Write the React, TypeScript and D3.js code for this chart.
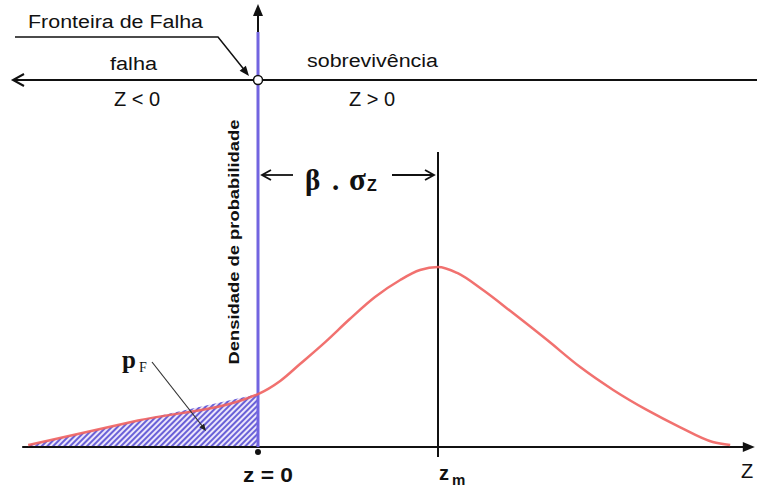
import * as d3 from 'd3';

// curve: z in units where z = 0 is the failure boundary and zm = 3
const zValues = [-3.83, -2, 0, 0.37, 0.7, 1.12, 1.53, 1.95, 2.37, 2.7, 3.0, 3.32, 3.75, 4.25, 4.82, 5.37, 5.92, 6.48, 7.03, 7.58, 7.87];
const density = [0.011, 0.147, 0.294, 0.367, 0.461, 0.583, 0.711, 0.833, 0.928, 0.983, 1.0, 0.967, 0.872, 0.744, 0.594, 0.444, 0.317, 0.206, 0.111, 0.028, 0.011];
const zMean = 3;
const axisExtent = [-3.93, 8.28];

const W = 757;
const H = 488;

const x = d3.scaleLinear().domain([0, zMean]).range([258, 438]);
const y = d3.scaleLinear().domain([0, 1]).range([447, 267]);

const points = zValues.map((z, i) => ({ z, d: density[i] }));
const failPts = points.filter(p => p.z <= 0);

const line = d3.line<{ z: number; d: number }>()
  .curve(d3.curveMonotoneX)
  .x(p => x(p.z))
  .y(p => y(p.d));

const area = d3.area<{ z: number; d: number }>()
  .curve(d3.curveMonotoneX)
  .x(p => x(p.z))
  .y0(y(0))
  .y1(p => y(p.d));

const sans = '"Liberation Sans", Arial, sans-serif';
const serif = '"Liberation Serif", "Times New Roman", serif';

const chevron = (tx: number, ty: number, dx: number, dy: number, len = 10, spread = 6) => {
  // open arrowhead pointing in direction (dx, dy)
  const n = Math.hypot(dx, dy);
  const ux = dx / n, uy = dy / n;
  const bx = tx - ux * len, by = ty - uy * len;
  return `M${bx - uy * spread},${by + ux * spread}L${tx},${ty}L${bx + uy * spread},${by - ux * spread}`;
};

const tri = (tx: number, ty: number, dx: number, dy: number, len = 12, spread = 5) => {
  const n = Math.hypot(dx, dy);
  const ux = dx / n, uy = dy / n;
  const bx = tx - ux * len, by = ty - uy * len;
  return `M${tx},${ty}L${bx - uy * spread},${by + ux * spread}L${bx + uy * spread},${by - ux * spread}Z`;
};

export default function App() {
  const x0 = x(0);
  const xm = x(zMean);
  const base = y(0);

  return (
    <svg width={W} height={H} style={{ position: 'absolute', left: 0, top: 0, background: '#fff' }}>
      <defs>
        <pattern id="hatch" width="4" height="4" patternUnits="userSpaceOnUse" patternTransform="rotate(45)">
          <rect width="4" height="4" fill="#ece6fb" />
          <line x1="1" y1="0" x2="1" y2="4" stroke="#5b52d4" strokeWidth="1.8" />
        </pattern>
      </defs>

      {/* failure region */}
      <path d={area(failPts) ?? ''} fill="url(#hatch)" />

      {/* Z axis */}
      <line x1={x(axisExtent[0])} y1={base} x2={x(axisExtent[1]) - 8} y2={base} stroke="#111" strokeWidth={2} />
      <path d={tri(x(axisExtent[1]), base, 1, 0)} fill="#111" />

      {/* density axis */}
      <line x1={x0} y1={base} x2={x0} y2={14} stroke="#111" strokeWidth={2} />
      <path d={tri(x0, 4, 0, -1)} fill="#111" />
      <line x1={x0} y1={base} x2={x0} y2={32} stroke="#7264e0" strokeWidth={3} />
      <circle cx={x0} cy={base + 5} r={3} fill="#111" />

      {/* mean line */}
      <line x1={xm} y1={152} x2={xm} y2={base + 10} stroke="#111" strokeWidth={2} />

      {/* density curve */}
      <path d={line(points) ?? ''} fill="none" stroke="#f0625f" strokeWidth={2.5} strokeOpacity={0.9} />

      {/* top domain arrow */}
      <line x1={13} y1={80} x2={W} y2={80} stroke="#111" strokeWidth={2} />
      <path d={chevron(13, 80, -1, 0, 11, 6)} fill="none" stroke="#111" strokeWidth={2} />
      <circle cx={x0} cy={80} r={4.5} fill="#fff" stroke="#111" strokeWidth={1.5} />

      {/* Fronteira de Falha leader */}
      <polyline points="15,37 218,37 246,72" fill="none" stroke="#111" strokeWidth={1.5} />
      <path d={tri(249, 76, 28, 35, 10, 4)} fill="#111" />

      <text x={28} y={28} fontFamily={sans} fontSize={18} textLength={175} lengthAdjust="spacingAndGlyphs" fill="#111">Fronteira de Falha</text>
      <text x={110} y={70} fontFamily={sans} fontSize={18} textLength={47} lengthAdjust="spacingAndGlyphs" fill="#111">falha</text>
      <text x={307} y={67} fontFamily={sans} fontSize={18} textLength={131} lengthAdjust="spacingAndGlyphs" fill="#111">sobrevivência</text>
      <text x={137} y={106} fontFamily={sans} fontSize={20} textAnchor="middle" fill="#111">Z &lt; 0</text>
      <text x={372} y={106} fontFamily={sans} fontSize={20} textAnchor="middle" fill="#111">Z &gt; 0</text>

      {/* y label */}
      <text transform="translate(239,242) rotate(-90)" fontFamily={sans} fontSize={15} fontWeight="bold"
        textAnchor="middle" textLength={245} lengthAdjust="spacingAndGlyphs" fill="#111">Densidade de probabilidade</text>

      {/* beta sigma annotation */}
      <line x1={x0 + 4} y1={175} x2={293} y2={175} stroke="#111" strokeWidth={1.8} />
      <path d={chevron(x0 + 4, 175, -1, 0, 9, 5)} fill="none" stroke="#111" strokeWidth={1.8} />
      <line x1={392} y1={175} x2={xm - 4} y2={175} stroke="#111" strokeWidth={1.8} />
      <path d={chevron(xm - 4, 175, 1, 0, 9, 5)} fill="none" stroke="#111" strokeWidth={1.8} />
      <text x={305} y={190} fontFamily={serif} fontSize={29} fontWeight="bold" fill="#111">β</text>
      <text x={332} y={190} fontFamily={serif} fontSize={29} fontWeight="bold" fill="#111">.</text>
      <text x={349} y={190} fontFamily={serif} fontSize={31} fontWeight="bold" fill="#111">σ</text>
      <text x={367} y={191} fontFamily={sans} fontSize={16} fontWeight="bold" fill="#111">Z</text>

      {/* pF label */}
      <text x={122} y={368} fontFamily={serif} fontSize={25} fontWeight="bold" fill="#111">p</text>
      <text x={139} y={372} fontFamily={serif} fontSize={14} fill="#111">F</text>
      <line x1={152} y1={362} x2={203} y2={427} stroke="#333" strokeWidth={1.2} />
      <path d={tri(206, 431, 51, 65, 7, 3)} fill="#222" />

      {/* bottom labels */}
      <text x={243} y={482} fontFamily={sans} fontSize={20} fontWeight="bold" textLength={50} lengthAdjust="spacingAndGlyphs" fill="#111">z = 0</text>
      <text x={439} y={480} fontFamily={sans} fontSize={20} fontWeight="bold" fill="#111">z</text>
      <text x={452} y={485} fontFamily={sans} fontSize={15} fontWeight="bold" fill="#111">m</text>
      <text x={741} y={478} fontFamily={sans} fontSize={20} fill="#111">Z</text>
    </svg>
  );
}
